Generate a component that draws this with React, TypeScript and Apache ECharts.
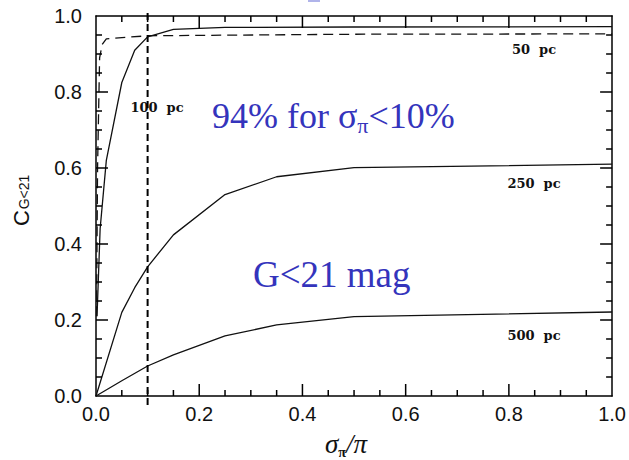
import React, { useEffect, useRef } from "react";
import * as echarts from "echarts";

// ---- data ----
const xTickLabels = ["0.0", "0.2", "0.4", "0.6", "0.8", "1.0"];
const yTickLabels = ["0.0", "0.2", "0.4", "0.6", "0.8", "1.0"];

// frame tick marks (same on all four sides): 1 = major, 0 = minor
const tickValues = [0.05, 0.1, 0.15, 0.2, 0.25, 0.3, 0.35, 0.4, 0.45, 0.5, 0.55, 0.6, 0.65, 0.7, 0.75, 0.8, 0.85, 0.9, 0.95];
const tickKinds = [0, 0, 0, 1, 0, 0, 0, 1, 0, 0, 0, 1, 0, 0, 0, 1, 0, 0, 0];

const pc50X = [0.001, 0.003, 0.007, 0.012, 0.02, 0.1, 0.5, 1.0];
const pc50Y = [0.21, 0.6, 0.89, 0.925, 0.94, 0.948, 0.952, 0.953];

const pc100X = [0.002, 0.008, 0.02, 0.05, 0.075, 0.1, 0.15, 0.25, 0.5, 1.0];
const pc100Y = [0.21, 0.44, 0.62, 0.825, 0.91, 0.945, 0.965, 0.97, 0.971, 0.972];

const pc250X = [0, 0.05, 0.075, 0.1, 0.15, 0.25, 0.35, 0.5, 1.0];
const pc250Y = [0, 0.22, 0.285, 0.34, 0.424, 0.53, 0.577, 0.601, 0.61];

const pc500X = [0, 0.05, 0.1, 0.15, 0.25, 0.35, 0.5, 1.0];
const pc500Y = [0, 0.04, 0.079, 0.108, 0.158, 0.187, 0.209, 0.221];

const cutX = [0.1, 0.1];
const cutY = [-0.024, 1.016];

const pairs = (xs: number[], ys: number[]) => xs.map((x, i) => [x, ys[i]]);

const SANS = '"Liberation Sans", Arial, sans-serif';
const SERIF = '"Liberation Serif", "Times New Roman", serif';
const LABELF = '"DejaVu Serif", serif';
const BLUE = "#3434bc";

export default function App() {
  const ref = useRef<HTMLDivElement>(null);
  useEffect(() => {
    if (!ref.current) return;
    const chart = echarts.init(ref.current, undefined, { renderer: "svg" });
    const lineStyle = { color: "#111", width: 1.3 };
    const label = (margin: number, labels: string[]) => ({
      show: true,
      margin,
      fontSize: 20,
      fontFamily: SANS,
      color: "#111",
      formatter: (v: number) => labels[Math.round(v / 0.2)] ?? "",
    });
    const axis = (pos: string, showLabel: boolean, margin: number, labels: string[]) => ({
      type: "value", min: 0, max: 1, interval: 0.2, position: pos,
      axisLine: { show: true, onZero: false, lineStyle: { color: "#000", width: 1.5 } },
      axisTick: { show: false },
      minorTick: { show: false },
      splitLine: { show: false },
      minorSplitLine: { show: false },
      axisLabel: showLabel ? label(margin, labels) : { show: false },
    });
    const txt = (text: string, x: number, y: number, font: string, fill: string, align = "center", rotation = 0) => ({
      type: "text",
      x,
      y,
      rotation,
      silent: true,
      style: { text, font, fill, align, textAlign: align, verticalAlign: "middle", textVerticalAlign: "middle" },
    });
    const W = 1.5;
    const tickData: any[] = [];
    tickValues.forEach((v, i) => {
      const len = tickKinds[i] === 1 ? 12 : 6;
      tickData.push({ value: [v, 0], symbolSize: [W, len], symbolOffset: [0, -len / 2] });
      tickData.push({ value: [v, 1], symbolSize: [W, len], symbolOffset: [0, len / 2] });
      tickData.push({ value: [0, v], symbolSize: [len, W], symbolOffset: [len / 2, 0] });
      tickData.push({ value: [1, v], symbolSize: [len, W], symbolOffset: [-len / 2, 0] });
    });
    chart.setOption({
      animation: false,
      backgroundColor: "#fff",
      grid: { left: 96, right: 16, top: 16, bottom: 64, containLabel: false },
      xAxis: [axis("bottom", true, 8, xTickLabels), axis("top", false, 8, xTickLabels)],
      yAxis: [axis("left", true, 14, yTickLabels), axis("right", false, 14, yTickLabels)],
      series: [
        {
          type: "scatter",
          symbol: "rect",
          clip: false,
          silent: true,
          data: tickData,
          itemStyle: { color: "#000", opacity: 1 },
          emphasis: { disabled: true },
          z: 5,
        },
        { type: "line", data: pairs(pc50X, pc50Y), symbol: "none", lineStyle: { ...lineStyle, type: [10, 6] } },
        { type: "line", data: pairs(pc100X, pc100Y), symbol: "none", lineStyle },
        { type: "line", data: pairs(pc250X, pc250Y), symbol: "none", lineStyle },
        { type: "line", data: pairs(pc500X, pc500Y), symbol: "none", lineStyle },
        { type: "line", data: pairs(cutX, cutY), symbol: "none", clip: false, lineStyle: { color: "#000", width: 2, type: [7, 4] } },
      ],
      graphic: [
        { type: "rect", shape: { x: 308, y: 0, width: 12, height: 2 }, style: { fill: "#b0b4ea" }, silent: true },
        txt("100  pc", 157, 107, `bold 13px ${LABELF}`, "#111"),
        txt("50  pc", 534, 49, `bold 13px ${LABELF}`, "#111"),
        txt("250  pc", 534, 183, `bold 13px ${LABELF}`, "#111"),
        txt("500  pc", 534, 335, `bold 13px ${LABELF}`, "#111"),
        {
          type: "text", x: 212, y: 116, silent: true,
          style: {
            text: "{m|94% for σ}{s|π}{m|<10%}",
            align: "left", verticalAlign: "middle",
            rich: {
              m: { font: `36px ${SERIF}`, fill: BLUE, color: BLUE, lineHeight: 40, verticalAlign: "middle" },
              s: { font: `22px ${SERIF}`, fill: BLUE, color: BLUE, lineHeight: 20, verticalAlign: "bottom" },
            },
          },
        },
        txt("G<21 mag", 253, 274, `37px ${SERIF}`, BLUE, "left"),
        {
          type: "text", x: 325, y: 444, silent: true,
          style: {
            text: "{i|σ}{s|π}{i|/π}",
            align: "left", verticalAlign: "middle",
            rich: {
              i: { font: `italic 27px ${SERIF}`, fill: "#111", color: "#111", lineHeight: 30, verticalAlign: "middle" },
              s: { font: `bold 14px ${SERIF}`, fill: "#111", color: "#111", lineHeight: 16, verticalAlign: "bottom" },
            },
          },
        },
        txt("C", 21, 218, `22px ${SANS}`, "#111", "center", Math.PI / 2),
        txt("G<21", 24, 192, `14px ${SANS}`, "#111", "center", Math.PI / 2),
      ],
    });
    return () => chart.dispose();
  }, []);
  return (
    <div
      ref={ref}
      style={{ position: "fixed", left: 0, top: 0, width: 629, height: 460, background: "#fff" }}
    />
  );
}
